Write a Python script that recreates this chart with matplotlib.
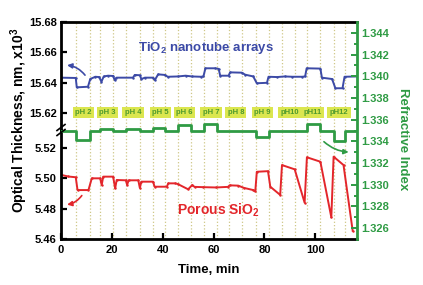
import matplotlib
matplotlib.use("Agg")
import matplotlib.pyplot as plt

plt.rcParams['font.family'] = ['Liberation Sans', 'DejaVu Sans']
plt.rcParams['font.weight'] = 'bold'
plt.rcParams['mathtext.fontset'] = 'custom'
plt.rcParams['mathtext.rm'] = 'Liberation Sans:bold'
plt.rcParams['mathtext.bf'] = 'Liberation Sans:bold'

# TiO2 nanotube arrays, optical thickness (x10^3 nm)
tio2_t = [0, 5.8, 6.2, 10.6, 11.5, 13.5, 15.0, 15.9, 16.8, 18.5, 20.5, 21.1, 21.8, 28.3, 29.0,
          31.0, 31.6, 33.0, 36.2, 36.9, 38.2, 40.8, 42.0, 46.0, 49.0, 51.5, 55.0, 56.0, 56.8,
          60.6, 62.0, 62.6, 65.9, 66.5, 71.1, 72.4, 75.6, 77.0, 81.0, 81.6, 85.0, 88.0, 91.0,
          94.8, 96.0, 96.6, 102.0, 102.6, 106.6, 107.9, 110.7, 111.5, 116.4]
tio2_v = [15.6432, 15.6430, 15.6368, 15.6372, 15.6423, 15.6438, 15.6436, 15.6405, 15.6440,
          15.6445, 15.6443, 15.6416, 15.6432, 15.6432, 15.6450, 15.6448, 15.6423, 15.6432,
          15.6432, 15.6416, 15.6454, 15.6450, 15.6438, 15.6440, 15.6445, 15.6440, 15.6438,
          15.6440, 15.6494, 15.6494, 15.6490, 15.6445, 15.6445, 15.6467, 15.6465, 15.6452,
          15.6440, 15.6395, 15.6398, 15.6438, 15.6436, 15.6440, 15.6438, 15.6438, 15.6440,
          15.6494, 15.6492, 15.6432, 15.6423, 15.6362, 15.6362, 15.6438, 15.6440]

# porous SiO2, optical thickness (x10^3 nm)
sio2_t = [0, 2.8, 5.8, 6.5, 10.8, 12.1, 15.4, 16.0, 16.6, 20.5, 21.3, 21.9, 25.5, 26.0, 26.6,
          30.4, 31.0, 31.6, 36.2, 36.8, 41.6, 42.2, 45.0, 46.0, 50.0, 51.6, 52.5, 56.0, 61.0,
          65.7, 66.3, 69.7, 72.0, 75.6, 76.4, 77.0, 81.4, 82.3, 86.2, 86.9, 91.9, 95.8, 96.7,
          102.0, 106.3, 107.2, 111.1, 114.7]
sio2_v = [5.5021, 5.5010, 5.5005, 5.4921, 5.4921, 5.4998, 5.4998, 5.4954, 5.5009, 5.5009,
          5.4932, 5.4987, 5.4985, 5.4955, 5.4985, 5.4985, 5.4935, 5.4976, 5.4976, 5.4943,
          5.4943, 5.4965, 5.4965, 5.4960, 5.4926, 5.4954, 5.4942, 5.4940, 5.4938, 5.4942,
          5.4952, 5.4950, 5.4935, 5.4921, 5.4912, 5.5041, 5.5045, 5.4943, 5.4889, 5.5085,
          5.5057, 5.4838, 5.5136, 5.5107, 5.4742, 5.5140, 5.5085, 5.4654]

# refractive index of the solution
ri_t = [0, 6.0, 6.0, 11.5, 11.5, 15.2, 15.2, 20.5, 20.5, 25.6, 25.6, 31.1, 31.1, 36.2, 36.2,
        40.9, 40.9, 46.1, 46.1, 51.2, 51.2, 56.3, 56.3, 61.3, 61.3, 76.7, 76.7, 81.9, 81.9,
        96.7, 96.7, 102.0, 102.0, 107.2, 107.2, 111.8, 111.8, 116.4]
ri_v = [1.3350, 1.3350, 1.3341, 1.3341, 1.3350, 1.3350, 1.3351, 1.3351, 1.3350, 1.3350,
        1.3351, 1.3351, 1.3350, 1.3350, 1.33525, 1.33525, 1.3350, 1.3350, 1.3355, 1.3355,
        1.3350, 1.3350, 1.3356, 1.3356, 1.3350, 1.3350, 1.3344, 1.3344, 1.3350, 1.3350,
        1.3356, 1.3356, 1.3350, 1.3350, 1.3340, 1.3340, 1.3350, 1.3350]

# pH exposure boundaries (min) and label positions
ph_bounds = [6.0, 11.5, 15.2, 20.5, 25.6, 31.1, 36.2, 40.9, 46.1, 51.2, 56.3, 61.3,
             66.0, 71.0, 76.7, 81.9, 87.0, 92.0, 96.7, 102.0, 107.2, 111.8]
ph_labels = ['pH 2', 'pH 3', 'pH 4', 'pH 5', 'pH 6', 'pH 7', 'pH 8', 'pH 9', 'pH10', 'pH11', 'pH12']
ph_centers = [8.9, 18.3, 28.3, 39.0, 48.5, 59.0, 68.8, 79.3, 90.0, 99.0, 109.3]

BLUE = '#3c4aa6'
RED = '#e3262b'
GREEN = '#2f9b44'
DOT = '#cfc787'

fig = plt.figure(figsize=(4.23, 2.85), dpi=100)
L, R = 61 / 423, 357 / 423
B, T, BR = 1 - 239 / 285, 1 - 22 / 285, 1 - 130 / 285
ax_top = fig.add_axes([L, BR, R - L, T - BR])
ax_bot = fig.add_axes([L, B, R - L, BR - B])
ax_ri = fig.add_axes([L, B, R - L, T - B], facecolor='none')

xmax = 116.4
for ax in (ax_top, ax_bot, ax_ri):
    ax.set_xlim(0, xmax)

for ax in (ax_top, ax_bot):
    for xb in ph_bounds:
        ax.axvline(xb, color=DOT, ls=':', lw=0.9, zorder=0)
    ax.spines['left'].set_linewidth(2)
    ax.spines['right'].set_visible(False)
    ax.tick_params(axis='y', direction='in', length=4, width=1.6, labelsize=8, pad=3)

ax_top.plot(tio2_t, tio2_v, color=BLUE, lw=1.4, marker='.', ms=1.5)
ax_top.set_ylim(15.6086, 15.68)
ax_top.set_yticks([15.62, 15.64, 15.66, 15.68])
ax_top.set_yticklabels(['15.62', '15.64', '15.66', '15.68'])
ax_top.spines['bottom'].set_visible(False)
ax_top.spines['top'].set_linewidth(2)
ax_top.set_xticks([])

ax_bot.plot(sio2_t, sio2_v, color=RED, lw=1.4, marker='.', ms=1.5)
ax_bot.set_ylim(5.46, 5.5315)
ax_bot.set_yticks([5.46, 5.48, 5.50, 5.52])
ax_bot.set_yticklabels(['5.46', '5.48', '5.50', '5.52'])
ax_bot.spines['top'].set_visible(False)
ax_bot.spines['bottom'].set_linewidth(2)
ax_bot.set_xticks([0, 20, 40, 60, 80, 100])
ax_bot.tick_params(axis='x', direction='in', length=4, width=1.6, labelsize=8, pad=4)

ax_ri.plot(ri_t, ri_v, color=GREEN, lw=2)
ax_ri.set_ylim(1.325, 1.345)
ax_ri.yaxis.tick_right()
ax_ri.set_yticks([1.326 + 0.002 * i for i in range(10)])
ax_ri.set_yticks([1.327 + 0.002 * i for i in range(9)], minor=True)
ax_ri.set_yticklabels(['%.3f' % (1.326 + 0.002 * i) for i in range(10)])
ax_ri.tick_params(axis='y', which='both', direction='in', colors=GREEN, labelsize=8,
                  width=1.4, pad=3)
ax_ri.tick_params(axis='y', which='major', length=4)
ax_ri.tick_params(axis='y', which='minor', length=2.5)
ax_ri.set_xticks([])
for s in ('left', 'top', 'bottom'):
    ax_ri.spines[s].set_visible(False)
ax_ri.spines['right'].set_color(GREEN)
ax_ri.spines['right'].set_linewidth(2)

# pH boxes
for xc, lab in zip(ph_centers, ph_labels):
    ax_top.text(xc, 15.6201, lab, ha='center', va='center', fontsize=5.5, color='#4d9a2e',
                bbox=dict(boxstyle='square,pad=0.3', fc='#dbe64f', ec='none'))

# series labels
ax_top.text(57, 15.6625, 'TiO$_\\mathbf{2}$ nanotube arrays', color=BLUE, fontsize=9.5,
            ha='center', va='center')
ax_bot.text(62, 5.4785, 'Porous SiO$_\\mathbf{2}$', color=RED, fontsize=10,
            ha='center', va='center')

# arrows to axes
ax_top.annotate('', xy=(1.3, 15.6516), xytext=(10.1, 15.6434),
                arrowprops=dict(arrowstyle='-|>', color=BLUE, lw=1.2, mutation_scale=7,
                                connectionstyle='arc3,rad=0.25'))
ax_bot.annotate('', xy=(1.3, 5.4823), xytext=(8.8, 5.4900),
                arrowprops=dict(arrowstyle='-|>', color=RED, lw=1.2, mutation_scale=7,
                                connectionstyle='arc3,rad=-0.25'))
ax_ri.annotate('', xy=(114.2, 1.3330), xytext=(102.6, 1.33414),
               arrowprops=dict(arrowstyle='-|>', color=GREEN, lw=1.2, mutation_scale=7,
                               connectionstyle='arc3,rad=0.2'))

# axis break marks on the left spine
for dy in (-2.5, 2.5):
    fig.add_artist(plt.Line2D([(57) / 423, (65) / 423],
                              [BR + (dy - 3) / 285, BR + (dy + 3) / 285],
                              color='black', lw=1.2))

fig.text(0.045, 0.577, 'Optical Thickness, nm, x10$^\\mathbf{3}$', rotation=90,
         ha='center', va='center', fontsize=10)
fig.text(0.494, 0.053, 'Time, min', ha='center', va='center', fontsize=9.5)
fig.text(0.953, 0.512, 'Refractive Index', rotation=-90, ha='center', va='center',
         fontsize=9.5, color=GREEN)

fig.savefig('out.png', dpi=100)
